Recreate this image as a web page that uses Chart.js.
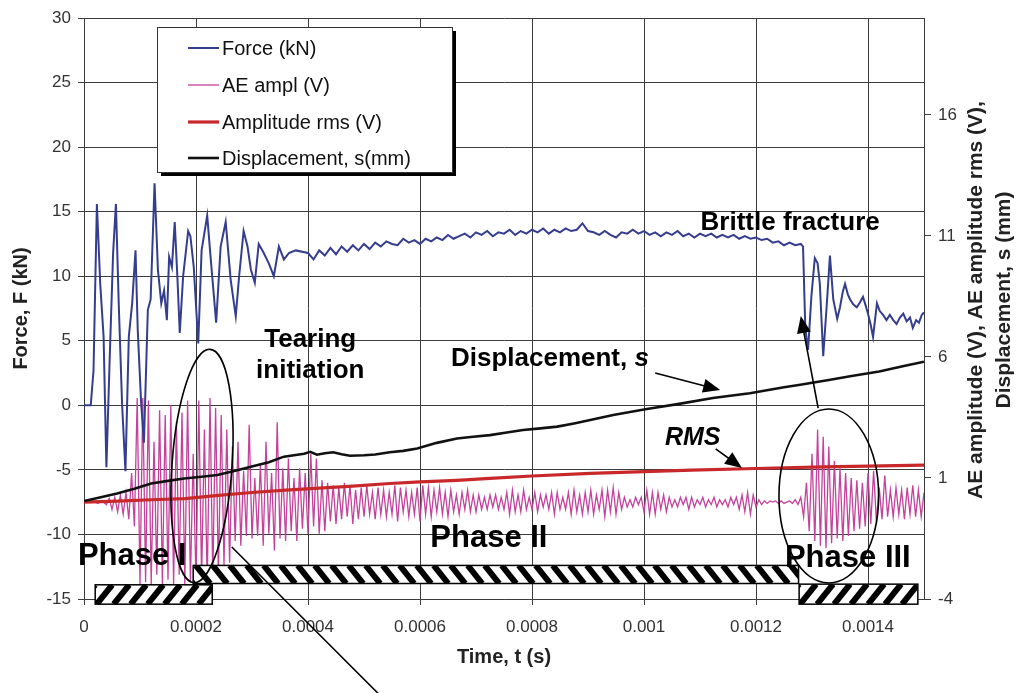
<!DOCTYPE html>
<html>
<head>
<meta charset="utf-8">
<script src="https://cdn.jsdelivr.net/npm/chart.js@4.4.1/dist/chart.umd.min.js"></script>
<style>
  html, body { margin: 0; padding: 0; background: #fff; }
</style>
</head>
<body>
<canvas id="chart" width="1021" height="693"></canvas>
<script>
// ---- data (time in microseconds) ----
const forceTimeUs = [
  0, 12, 17, 23, 29, 35, 40, 46, 52, 57, 62, 68, 74, 80, 86, 92, 96, 102, 107, 114,
  119, 126, 132, 138, 143, 148, 152, 157, 162, 167, 171, 177, 186, 190, 196, 204, 210, 220, 226, 236,
  244, 253, 262, 271, 277, 285, 292, 298, 305, 312, 321, 330, 339, 348, 357, 366, 378,
  400, 410, 420, 430, 440, 450, 460, 470, 480, 490,
  500, 510, 520, 530, 540, 550, 560, 570, 580, 590,
  600, 610, 620, 630, 640, 650, 660, 670, 680, 690,
  700, 710, 720, 730, 740, 750, 760, 770, 780, 790,
  800, 810, 820, 830, 840, 850, 860, 870, 880, 890,
  900, 910, 920, 930, 940, 950, 960, 970, 980, 990,
  1000, 1010, 1020, 1030, 1040, 1050, 1060, 1070, 1080, 1090,
  1100, 1110, 1120, 1130, 1140, 1150, 1160, 1170, 1180, 1190,
  1200, 1210, 1220, 1230, 1240, 1250, 1260, 1270, 1280,
  1284, 1288, 1293, 1299, 1305, 1310, 1314, 1320, 1327, 1332,
  1338, 1345, 1350, 1355, 1359, 1364, 1368, 1374, 1380, 1386,
  1391, 1396, 1400, 1405, 1409, 1416, 1421, 1427, 1433, 1439,
  1445, 1451, 1457, 1463, 1469, 1475, 1480, 1486, 1491, 1496, 1500
];
const forceKN = [
  0.0, 0.0, 2.7, 15.6, 9.4, 5.3, -4.8, 3.8, 11.8, 15.6, 7.9, 0.1, -5.1, 5.3, 7.9, 12.0, 5.8, 0.2, -2.9, 7.4,
  8.2, 17.2, 10.5, 7.9, 8.9, 6.6, 11.5, 10.7, 14.2, 9.7, 5.6, 10.0, 13.5, 13.1, 10.7, 4.8, 12.0, 14.7, 11.5, 6.4,
  12.3, 14.2, 9.7, 6.9, 10.0, 13.5, 12.3, 10.5, 9.5, 12.5, 11.8, 11.0, 10.0, 12.3, 11.3, 11.8, 12.0,
  11.8, 11.3, 12.0, 11.6, 12.2, 11.7, 12.3, 11.9, 12.4, 12.0,
  12.5, 12.1, 12.6, 12.3, 12.7, 12.5, 12.4, 12.9, 12.6, 12.8,
  12.5, 12.9, 12.7, 13.0, 12.8, 13.2, 12.9, 13.1, 13.3, 13.0,
  13.4, 13.2, 13.5, 13.1, 13.4, 13.3, 13.6, 13.2, 13.5, 13.3,
  13.6, 13.4, 13.7, 13.3, 13.6, 13.4, 13.7, 13.5, 13.6, 14.1,
  13.5, 13.4, 13.2, 13.5, 13.2, 13.0, 13.4, 13.3, 13.6, 13.3,
  13.5, 13.2, 13.4, 13.1, 13.4, 13.2, 13.5, 13.1, 13.3, 13.0,
  13.3, 13.1, 13.3, 13.0, 13.2, 13.0, 13.2, 12.9, 13.1, 12.9,
  13.0, 12.8, 12.9, 12.6, 12.7, 12.4, 12.6, 12.4, 12.5,
  12.3, 6.0, 4.3, 8.5, 11.4, 11.0, 9.4, 3.8, 8.2, 11.6,
  8.2, 6.7, 7.6, 8.8, 9.4, 8.6, 8.2, 7.8, 7.6, 8.0,
  8.4, 7.7, 7.1, 6.2, 5.3, 7.9, 7.3, 7.0, 6.6, 7.0,
  6.6, 6.3, 6.8, 7.1, 6.5, 6.8, 6.0, 6.6, 6.4, 7.0, 7.2
];

// AE signal, one reading every 5 us from t = 0
const aeStartUs = 0;
const aeStepUs = 5;
const aeVolt = [
  0, 0, 0, 0.05, 0, -0.05, 0.05, 0, -0.1, 0.15, -0.3, 0.2, -0.4, 0.3, -0.5, 0.4, -0.7, 1.2, -1.0, 4.3,
  -3.4, 4.3, -3.3, 4.2, -3.4, 2.5, -3.0, 3.8, -3.4, 3.6, -3.2, 4.0, -3.4, 3.3, -3.0, 3.7, -3.4, 4.2, -3.3, 2.0,
  -3.4, 4.2, -3.2, 3.0, -3.4, 4.3, -3.2, 3.9, -3.0, 3.6, -2.6, 3.0, -2.5, 2.3, -1.6, 2.5, -1.8, 1.3, -1.4, 3.2,
  -1.5, 1.0, -1.4, 1.6, -1.8, 2.5, -1.3, 1.2, -2.0, 3.3, -1.5, 1.4, -1.6, 1.8, -1.2, 1.0, -1.6, 1.4, -1.1, 1.2,
  -1.3, 2.0, -1.0, 1.8, -1.3, 0.9, -1.2, 0.8, -0.8, 0.7, -0.9, 0.6, -0.7, 0.8, -0.6, 0.7, -0.9, 0.5, -0.7, 0.6,
  -0.6, 0.7, -0.5, 0.4, -0.7, 0.6, -0.5, 0.5, -0.6, 0.4, -0.5, 0.7, -0.8, 0.6, -0.4, 0.5, -0.6, 0.4, -0.5, 0.6,
  -0.8, 0.7, -0.5, 0.6, -0.6, 0.5, -0.4, 0.6, -0.5, 0.4, -0.6, 0.5, -0.4, 0.3, -0.5, 0.4, -0.3, 0.5, -0.4, 0.3,
  -0.4, 0.3, -0.3, 0.2, -0.3, 0.3, -0.2, 0.3, -0.3, 0.2, -0.3, 0.4, -0.5, 0.5, -0.4, 0.3, -0.4, 0.5, -0.3, 0.2,
  -0.3, 0.4, -0.4, 0.3, -0.2, 0.3, -0.3, 0.4, -0.5, 0.4, -0.3, 0.2, -0.3, 0.4, -0.5, 0.5, -0.4, 0.3, -0.5, 0.4,
  -0.4, 0.5, -0.5, 0.3, -0.3, 0.5, -0.6, 0.5, -0.4, 0.6, -0.5, 0.4, -0.3, 0.2, -0.2, 0.1, -0.2, 0.2, -0.1, 0.2,
  -0.4, 0.5, -0.5, 0.4, -0.5, 0.4, -0.3, 0.3, -0.4, 0.2, -0.2, 0.1, -0.2, 0.2, -0.1, 0.2, -0.3, 0.2, -0.2, 0.1,
  -0.1, 0.2, -0.2, 0.1, -0.1, 0.2, -0.2, 0.1, -0.1, 0.1, -0.2, 0.2, -0.1, 0.2, -0.3, 0.3, -0.4, 0.4, -0.5, 0.3,
  -0.2, 0.1, -0.1, 0.05, -0.05, 0.05, 0, 0.05, -0.05, 0.05, -0.05, 0, 0.05, -0.05, 0.1, -0.1, 0.2, -0.6, 0.8, -1.2,
  2.0, -1.6, 3.0, -1.8, 2.7, -1.9, 2.3, -1.7, 1.7, -1.5, 1.4, -1.6, 1.2, -1.4, 1.0, -1.2, 0.9, -1.1, 0.8, -1.0,
  1.2, -0.9, 1.3, -0.8, 0.6, -0.7, 1.1, -0.6, 0.5, -0.6, 0.6, -0.5, 0.5, -0.7, 0.6, -0.5, 0.7, -0.6, 0.5, -0.6, 0.4
];

const rmsTimeUs = [0, 60, 120, 180, 240, 300, 360, 420, 480, 546, 600, 666, 725, 800, 904, 1000, 1085, 1200, 1320, 1400, 1500];
const rmsVolt = [0.0, 0.04, 0.1, 0.15, 0.28, 0.4, 0.5, 0.58, 0.66, 0.77, 0.84, 0.9, 0.98, 1.08, 1.19, 1.26, 1.32, 1.39, 1.46, 1.49, 1.53];

const dispTimeUs = [0, 30, 59, 90, 120, 150, 179, 210, 238, 270, 298, 330, 357, 393, 404, 416, 430, 445, 460, 475,
  500, 520, 546, 570, 595, 630, 666, 695, 725, 755, 784, 815, 845, 875, 904, 945, 1005, 1060, 1123, 1189,
  1250, 1279, 1330, 1368, 1420, 1460, 1500];
const dispMm = [0.05, 0.2, 0.36, 0.55, 0.77, 0.88, 0.98, 1.05, 1.12, 1.3, 1.46, 1.65, 1.88, 2.0, 2.08, 1.96, 2.02, 2.06, 1.98, 1.92,
  1.94, 1.97, 2.06, 2.12, 2.22, 2.45, 2.63, 2.7, 2.77, 2.88, 2.98, 3.05, 3.12, 3.25, 3.39, 3.6, 3.85, 4.05, 4.3, 4.5,
  4.75, 4.85, 5.05, 5.2, 5.4, 5.6, 5.8];

const xTicks = [0, 0.0002, 0.0004, 0.0006, 0.0008, 0.001, 0.0012, 0.0014];
const xTickLabels = ["0", "0.0002", "0.0004", "0.0006", "0.0008", "0.001", "0.0012", "0.0014"];
const rightTicks = [-4, 1, 6, 11, 16];

// phase bars (us, force-axis units)
const phaseStartUs = [20, 195, 1277];
const phaseEndUs = [229, 1276, 1489];
const phaseTop = [-13.9, -12.4, -13.85];
const phaseBottom = [-15.4, -13.8, -15.4];
const phaseHatch = ["/", "\\", "/"];

const us = 1e-6;
const toPoints = (times, vals) => times.map((t, i) => ({ x: t * us, y: vals[i] }));
const aePoints = aeVolt.map((v, i) => ({ x: (aeStartUs + i * aeStepUs) * us, y: v }));

Chart.defaults.font.family = "'Liberation Sans', Arial, Helvetica, sans-serif";
Chart.defaults.color = "#333";

function arrow(ctx, x1, y1, x2, y2) {
  const a = Math.atan2(y2 - y1, x2 - x1);
  const len = 17, half = 7;
  ctx.beginPath();
  ctx.moveTo(x1, y1);
  ctx.lineTo(x2 - Math.cos(a) * len * 0.7, y2 - Math.sin(a) * len * 0.7);
  ctx.stroke();
  ctx.beginPath();
  ctx.moveTo(x2, y2);
  ctx.lineTo(x2 - len * Math.cos(a) + half * Math.sin(a), y2 - len * Math.sin(a) - half * Math.cos(a));
  ctx.lineTo(x2 - len * Math.cos(a) - half * Math.sin(a), y2 - len * Math.sin(a) + half * Math.cos(a));
  ctx.closePath();
  ctx.fill();
}

function hatchBar(ctx, x0, y0, x1, y1, dir) {
  ctx.save();
  ctx.beginPath();
  ctx.rect(x0, y0, x1 - x0, y1 - y0);
  ctx.fillStyle = "#fff";
  ctx.fill();
  ctx.clip();
  const h = y1 - y0, sp = 17, lean = h * 0.8;
  ctx.strokeStyle = "#000";
  ctx.lineWidth = 6;
  for (let x = x0 - lean - sp; x < x1 + lean + sp; x += sp) {
    ctx.beginPath();
    if (dir === "/") { ctx.moveTo(x, y1); ctx.lineTo(x + lean, y0); }
    else { ctx.moveTo(x, y0); ctx.lineTo(x + lean, y1); }
    ctx.stroke();
  }
  ctx.restore();
  ctx.strokeStyle = "#000";
  ctx.lineWidth = 1.5;
  ctx.strokeRect(x0, y0, x1 - x0, y1 - y0);
}

/* ===============================
   ANNOTATIONS (texts, arrows, ellipses, phase bars)
   =============================== */
const annotations = {
  id: "annotations",
  afterDatasetsDraw(chart) {
    const { ctx } = chart;
    const sx = chart.scales.x, sy = chart.scales.y;
    const px = t => sx.getPixelForValue(t * us);
    const py = v => sy.getPixelForValue(v);

    ctx.save();
    ctx.fillStyle = "#000";
    ctx.strokeStyle = "#000";

    // phase bars
    phaseStartUs.forEach((t0, i) => {
      hatchBar(ctx, px(t0), py(phaseTop[i]), px(phaseEndUs[i]), py(phaseBottom[i]), phaseHatch[i]);
    });

    // ellipses and connector lines
    ctx.lineWidth = 1.6;
    ctx.beginPath();
    ctx.ellipse(px(210.7), py(-4.7), px(210.7 + 53.6) - px(210.7), py(-4.7) - py(-4.7 + 9.06), 0.07, 0, Math.PI * 2);
    ctx.stroke();
    ctx.beginPath();
    ctx.ellipse(px(1330), py(-7.02), px(1330 + 89) - px(1330), py(-7.02) - py(-7.02 + 6.74), 0, 0, Math.PI * 2);
    ctx.stroke();
    ctx.beginPath();
    ctx.moveTo(px(264), py(-10.97));
    ctx.lineTo(px(525), py(-22.3));
    ctx.stroke();

    // arrows
    arrow(ctx, px(1020), py(2.5), px(1136), py(1.19));
    arrow(ctx, px(1128), py(-3.38), px(1175), py(-4.85));
    arrow(ctx, px(1311), py(-0.21), px(1280), py(6.92));

    // texts
    ctx.textAlign = "center";
    ctx.textBaseline = "alphabetic";
    ctx.font = "bold 26px 'Liberation Sans', Arial, sans-serif";
    ctx.fillText("Tearing", px(404), py(4.52));
    ctx.fillText("initiation", px(404), py(2.12));
    ctx.fillText("Brittle fracture", px(1261), py(13.58));

    const part1 = "Displacement, ";
    const w1 = ctx.measureText(part1).width;
    ctx.font = "italic bold 26px 'Liberation Sans', Arial, sans-serif";
    const w2 = ctx.measureText("s").width;
    const left = px(832) - (w1 + w2) / 2;
    ctx.textAlign = "left";
    ctx.font = "bold 26px 'Liberation Sans', Arial, sans-serif";
    ctx.fillText(part1, left, py(3.05));
    ctx.font = "italic bold 26px 'Liberation Sans', Arial, sans-serif";
    ctx.fillText("s", left + w1, py(3.05));

    ctx.textAlign = "center";
    ctx.font = "italic bold 25px 'Liberation Sans', Arial, sans-serif";
    ctx.fillText("RMS", px(1087), py(-3.07));

    ctx.font = "bold 31px 'Liberation Sans', Arial, sans-serif";
    ctx.fillText("Phase I", px(86), py(-12.37));
    ctx.fillText("Phase II", px(723), py(-10.97));
    ctx.fillText("Phase III", px(1364), py(-12.52));
    ctx.restore();
  },
  afterDraw(chart) {
    const { ctx } = chart;
    ctx.save();
    // right axis title, reading upwards
    ctx.fillStyle = "#222";
    ctx.font = "bold 21px 'Liberation Sans', Arial, sans-serif";
    ctx.textAlign = "center";
    ctx.textBaseline = "middle";
    [["AE amplitude (V), AE amplitude rms (V),", 976], ["Displacement, s (mm)", 1004]].forEach(([txt, x]) => {
      ctx.save();
      ctx.translate(x, 300);
      ctx.rotate(-Math.PI / 2);
      ctx.fillText(txt, 0, 0);
      ctx.restore();
    });

    // legend box with drop shadow
    const L = { x: 157, y: 27, w: 295, h: 145 };
    ctx.fillStyle = "#000";
    ctx.fillRect(L.x + 4, L.y + 4, L.w, L.h);
    ctx.fillStyle = "#fff";
    ctx.fillRect(L.x, L.y, L.w, L.h);
    ctx.strokeStyle = "#333";
    ctx.lineWidth = 1;
    ctx.strokeRect(L.x + 0.5, L.y + 0.5, L.w, L.h);
    ctx.font = "20px 'Liberation Sans', Arial, sans-serif";
    ctx.textAlign = "left";
    ctx.textBaseline = "middle";
    const rowY = [48, 85, 122, 158];
    [0, 1, 2, 3].forEach((di, r) => {
      const ds = chart.data.datasets[di];
      ctx.strokeStyle = ds.borderColor;
      ctx.lineWidth = ds.borderWidth;
      ctx.beginPath();
      ctx.moveTo(188, rowY[r]);
      ctx.lineTo(219, rowY[r]);
      ctx.stroke();
      ctx.fillStyle = "#111";
      ctx.fillText(ds.label, 222, rowY[r] + 1);
    });
    ctx.restore();
  }
};

const gridColor = "#3c3c3c";

new Chart(document.getElementById("chart"), {
  type: "line",
  data: {
    datasets: [
      { label: "Force (kN)", data: toPoints(forceTimeUs, forceKN), yAxisID: "y", borderColor: "#353d8e", borderWidth: 2, order: 1 },
      { label: "AE ampl (V)", data: aePoints, yAxisID: "y2", borderColor: "#c4429a", borderWidth: 1.3, order: 4 },
      { label: "Amplitude rms (V)", data: toPoints(rmsTimeUs, rmsVolt), yAxisID: "y2", borderColor: "#c9282b", borderWidth: 3.2, order: 3 },
      { label: "Displacement, s(mm)", data: toPoints(dispTimeUs, dispMm), yAxisID: "y2", borderColor: "#111", borderWidth: 2.6, order: 2 }
    ]
  },
  options: {
    responsive: false,
    animation: false,
    devicePixelRatio: 1,
    events: [],
    parsing: false,
    elements: { point: { radius: 0 }, line: { tension: 0, fill: false } },
    layout: { padding: { top: 18, left: 0, right: 0, bottom: 0 } },
    plugins: { legend: { display: false }, tooltip: { enabled: false } },
    scales: {
      x: {
        type: "linear",
        min: 0,
        max: 0.0015,
        afterBuildTicks: s => { s.ticks = xTicks.map(v => ({ value: v })); },
        afterFit: s => { s.height = 94; },
        ticks: { autoSkip: false, maxRotation: 0, padding: 12, color: "#333", font: { size: 17 }, callback: (v, i) => xTickLabels[i] },
        grid: { color: gridColor, lineWidth: 1, tickLength: 6 },
        border: { color: gridColor },
        title: { display: true, text: "Time, t (s)", color: "#222", font: { size: 20, weight: "bold" }, padding: { bottom: 24 } }
      },
      y: {
        position: "left",
        min: -15,
        max: 30,
        afterFit: s => { s.width = 84; },
        ticks: { stepSize: 5, padding: 7, color: "#333", font: { size: 17 } },
        grid: { color: gridColor, lineWidth: 1, tickLength: 6 },
        border: { color: gridColor },
        title: { display: true, text: "Force, F (kN)", color: "#222", font: { size: 20, weight: "bold" }, padding: { top: 9 } }
      },
      y2: {
        position: "right",
        min: -4,
        max: 20,
        afterBuildTicks: s => { s.ticks = rightTicks.map(v => ({ value: v })); },
        afterFit: s => { s.width = 97; },
        ticks: { padding: 7, color: "#333", font: { size: 17 } },
        grid: { drawOnChartArea: false, color: gridColor, tickLength: 7 },
        border: { color: gridColor }
      }
    }
  },
  plugins: [annotations]
});
</script>
</body>
</html>
